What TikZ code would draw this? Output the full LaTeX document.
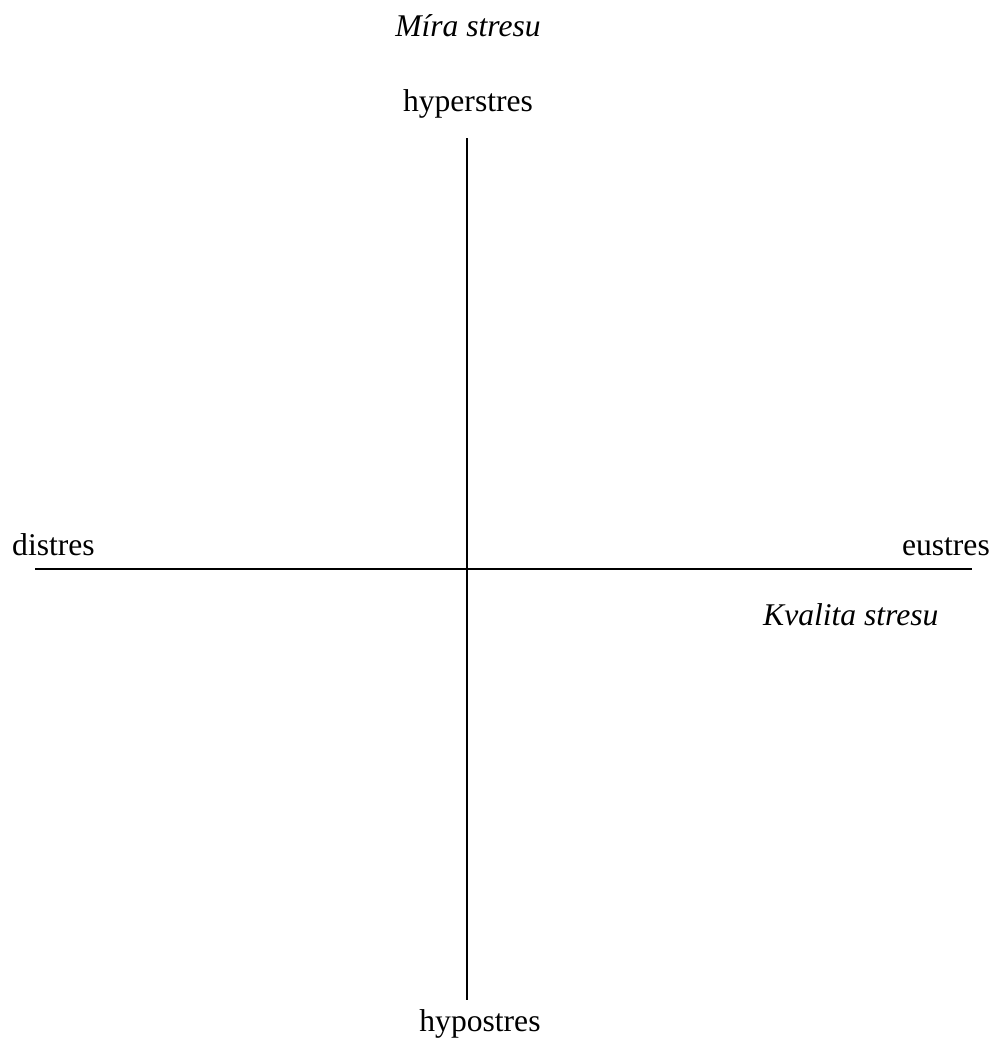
\documentclass[tikz,border=0pt]{standalone}
\usepackage{fontspec}
\setmainfont{Liberation Serif}
\begin{document}
\begin{tikzpicture}[x=1pt,y=-1pt,
  lbl/.style={inner sep=0pt,font=\fontsize{31.6}{38}\selectfont},
  axis/.style={line width=2.2pt}]
\useasboundingbox (0,0) rectangle (998,1041);
\coordinate (top) at (467,138);
\coordinate (bot) at (467,1000);
\coordinate (left) at (35,569);
\coordinate (right) at (972,569);
\draw[axis] (top) -- (bot);
\draw[axis] (left) -- (right);
\node[lbl,anchor=base,font=\fontsize{31.6}{38}\selectfont\itshape] (mira) at (468,37) {Míra stresu};
\node[lbl,anchor=base] (hyper) at (468,111) {hyperstres};
\node[lbl,anchor=base west] (dis) at (12,555) {distres};
\node[lbl,anchor=base east] (eu) at (990,555) {eustres};
\node[lbl,anchor=base west,font=\fontsize{31.6}{38}\selectfont\itshape] (kval) at (763,625) {Kvalita stresu};
\node[lbl,anchor=base] (hypo) at (480,1031) {hypostres};
\end{tikzpicture}
\end{document}
